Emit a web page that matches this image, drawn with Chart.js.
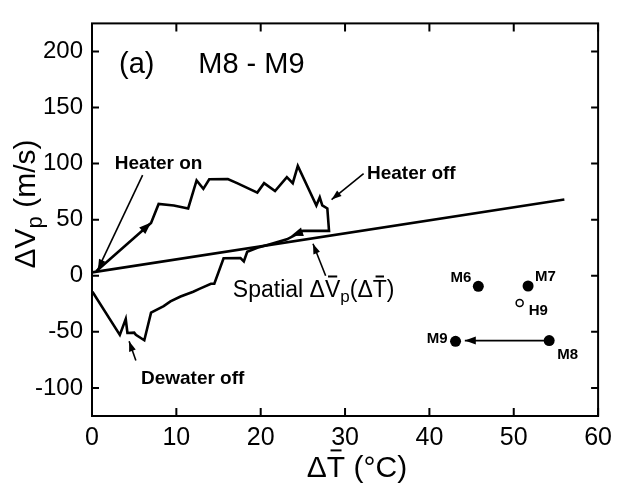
<!DOCTYPE html>
<html>
<head>
<meta charset="utf-8">
<script src="https://cdn.jsdelivr.net/npm/chart.js@4.4.1/dist/chart.umd.min.js"></script>
<style>
  body { margin: 0; background: #fff; }
  #wrap { width: 619px; height: 495px; }
</style>
</head>
<body>
<div id="wrap"><canvas id="chart"></canvas></div>
<script>
// axis ticks
const xTicks = [0, 10, 20, 30, 40, 50, 60];
const yTicks = [-100, -50, 0, 50, 100, 150, 200];

// temporal path M8-M9: heater on -> heater off -> dewater off
const pathX = [0.5, 7.0, 7.9, 9.7, 11.4, 12.4, 13.2, 13.9, 16.1, 17.2, 19.6, 20.4, 21.7, 23.1, 23.8, 24.4,
  26.6, 27.0, 27.3, 27.9, 28.1, 25.0, 23.9, 23.1, 21.0, 19.6, 18.4, 18.0, 17.6, 15.6, 14.5, 14.1, 12.8,
  12.0, 10.5, 9.3, 8.5, 7.0, 6.2, 5.2, 5.0, 4.2, 4.0, 3.3, 0.05];
const pathY = [4, 47, 64, 62.7, 60, 85, 77.5, 86, 86.3, 82.6, 74.2, 82.6, 75.5, 88, 82.6, 98,
  62.7, 70, 62.7, 60, 40, 40, 35.6, 32.5, 28, 25, 21.4, 12.8, 15.7, 15.6, -7, -7.1, -11.4,
  -14.2, -18.5, -22.8, -27, -32.8, -57.5, -52.7, -50.7, -51, -38.5, -52.7, -14.2];

// spatial relation line
const spatialX = [0, 56];
const spatialY = [3, 68];

// well pairs
const wellNames = ['M6', 'M7', 'M8', 'M9'];
const wellX = [45.8, 51.7, 54.2, 43.1];
const wellY = [-9.4, -9.1, -57.8, -58.4];
const openNames = ['H9'];
const openX = [50.7];
const openY = [-24.2];

// annotations (data units)
const noteText = ['Heater on', 'Heater off', 'Dewater off'];
const noteX = [2.7, 32.6, 5.8];
const noteY = [95, 86, -96.6];
// pointer lines [x1, y1, x2, y2], arrowhead at the second point
const pointers = [[6.0, 89.7, 0.7, 5.7], [32.2, 91, 28.4, 68], [27.7, 0, 26.2, 28.5], [5.2, -75.5, 4.4, -58.4]];
const curveHeads = [[5.5, 37, 7.0, 47.5], [25.2, 39.8, 23.6, 35.8]];
const moveArrow = [54.2, -57.8, 44.2, -57.8];

const FONT = "'Liberation Sans', Arial, sans-serif";

function head(ctx, x1, y1, x2, y2, len, wid) {
  const a = Math.atan2(y2 - y1, x2 - x1);
  ctx.beginPath();
  ctx.moveTo(x2, y2);
  ctx.lineTo(x2 - len * Math.cos(a) + wid * Math.sin(a), y2 - len * Math.sin(a) - wid * Math.cos(a));
  ctx.lineTo(x2 - len * Math.cos(a) - wid * Math.sin(a), y2 - len * Math.sin(a) + wid * Math.cos(a));
  ctx.closePath();
  ctx.fill();
}

function richWidth(ctx, parts) {
  let w = 0;
  parts.forEach(p => { ctx.font = p[3] + ' ' + p[1] + 'px ' + FONT; w += ctx.measureText(p[0]).width; });
  return w;
}

function rich(ctx, parts, x, y) {
  let cx = x;
  ctx.textAlign = 'left';
  ctx.textBaseline = 'alphabetic';
  parts.forEach(([t, size, dy, weight, bar]) => {
    ctx.font = weight + ' ' + size + 'px ' + FONT;
    ctx.fillText(t, cx, y + dy);
    const w = ctx.measureText(t).width;
    if (bar) ctx.fillRect(cx + w * 0.2, y + dy - size * 0.92, w * 0.6, 2);
    cx += w;
  });
}

const decor = {
  id: 'decor',
  afterDatasetsDraw(chart) {
    const ctx = chart.ctx;
    const xs = chart.scales.x, ys = chart.scales.y;
    const X = v => xs.getPixelForValue(v), Y = v => ys.getPixelForValue(v);
    const a = chart.chartArea;
    ctx.save();
    ctx.strokeStyle = '#000';
    ctx.fillStyle = '#000';

    // frame and inward ticks
    ctx.lineWidth = 2;
    ctx.strokeRect(a.left, a.top, a.right - a.left, a.bottom - a.top);
    ctx.beginPath();
    xTicks.forEach(t => {
      ctx.moveTo(X(t), a.bottom); ctx.lineTo(X(t), a.bottom - 8);
      ctx.moveTo(X(t), a.top); ctx.lineTo(X(t), a.top + 8);
    });
    yTicks.forEach(t => {
      ctx.moveTo(a.left, Y(t)); ctx.lineTo(a.left + 7, Y(t));
      ctx.moveTo(a.right, Y(t)); ctx.lineTo(a.right - 7, Y(t));
    });
    ctx.stroke();

    // pointers
    ctx.lineWidth = 1.6;
    pointers.forEach(p => {
      ctx.beginPath(); ctx.moveTo(X(p[0]), Y(p[1])); ctx.lineTo(X(p[2]), Y(p[3])); ctx.stroke();
      head(ctx, X(p[0]), Y(p[1]), X(p[2]), Y(p[3]), 10, 3.5);
    });
    curveHeads.forEach(p => head(ctx, X(p[0]), Y(p[1]), X(p[2]), Y(p[3]), 12, 4.5));
    ctx.beginPath(); ctx.moveTo(X(moveArrow[0]), Y(moveArrow[1])); ctx.lineTo(X(moveArrow[2]), Y(moveArrow[3])); ctx.stroke();
    head(ctx, X(moveArrow[0]), Y(moveArrow[1]), X(moveArrow[2]), Y(moveArrow[3]), 11, 4);

    // notes
    ctx.textAlign = 'left';
    ctx.textBaseline = 'alphabetic';
    ctx.font = 'bold 19px ' + FONT;
    noteText.forEach((t, i) => ctx.fillText(t, X(noteX[i]), Y(noteY[i])));

    // well labels
    ctx.font = 'bold 15px ' + FONT;
    const lab = [['right', -7, -4], ['left', 7, -5], ['left', 8, 18], ['right', -8, 2]];
    wellNames.forEach((n, i) => {
      ctx.textAlign = lab[i][0];
      ctx.fillText(n, X(wellX[i]) + lab[i][1], Y(wellY[i]) + lab[i][2]);
    });
    ctx.textAlign = 'left';
    openNames.forEach((n, i) => ctx.fillText(n, X(openX[i]) + 9, Y(openY[i]) + 12));

    // panel title
    ctx.font = '29px ' + FONT;
    ctx.fillText('(a)', X(3.2), Y(181));
    ctx.fillText('M8 - M9', X(12.6), Y(181));

    // spatial label
    rich(ctx, [['Spatial ', 23, 0, 'normal'], ['\u0394', 23, 0, 'normal'], ['V', 23, 0, 'normal', true],
      ['p', 17, 5, 'normal'], ['(\u0394', 23, 0, 'normal'], ['T', 23, 0, 'normal', true], [')', 23, 0, 'normal']],
      X(16.7), Y(-18.6));

    // axis titles
    const xt = [['\u0394', 30, 0, 'normal'], ['T', 30, 0, 'normal', true], [' (\u00b0C)', 30, 0, 'normal']];
    rich(ctx, xt, 357 - richWidth(ctx, xt) / 2, 477);
    const yt = [['\u0394V', 30, 0, 'normal'], ['p', 22, 7, 'normal'], [' (m/s)', 30, 0, 'normal']];
    const w = richWidth(ctx, yt);
    ctx.translate(24, 204);
    ctx.rotate(-Math.PI / 2);
    rich(ctx, yt, -w / 2, 11);
    ctx.restore();
  }
};

new Chart(document.getElementById('chart'), {
  type: 'scatter',
  data: {
    datasets: [
      {
        data: pathX.map((x, i) => ({ x: x, y: pathY[i] })),
        showLine: true, borderColor: '#000', borderWidth: 2.6, pointRadius: 0, tension: 0
      },
      {
        data: spatialX.map((x, i) => ({ x: x, y: spatialY[i] })),
        showLine: true, borderColor: '#000', borderWidth: 2.6, pointRadius: 0
      },
      {
        data: wellX.map((x, i) => ({ x: x, y: wellY[i] })),
        pointRadius: 5.5, backgroundColor: '#000', borderColor: '#000', borderWidth: 0
      },
      {
        data: openX.map((x, i) => ({ x: x, y: openY[i] })),
        pointRadius: 3.5, backgroundColor: '#fff', borderColor: '#000', borderWidth: 1.5
      }
    ]
  },
  options: {
    responsive: true,
    maintainAspectRatio: false,
    animation: false,
    layout: { padding: { top: 5, right: 12, left: 0, bottom: 0 } },
    plugins: { legend: { display: false }, tooltip: { enabled: false } },
    scales: {
      x: {
        type: 'linear', min: 0, max: 60,
        afterBuildTicks: s => { s.ticks = xTicks.map(v => ({ value: v })); },
        afterFit: s => { s.height = 79; },
        grid: { display: false, drawTicks: false },
        border: { display: false },
        ticks: { color: '#000', padding: 7, maxRotation: 0, font: { family: FONT, size: 25 } }
      },
      y: {
        type: 'linear', min: -125, max: 225,
        afterBuildTicks: s => { s.ticks = yTicks.map(v => ({ value: v })); },
        afterFit: s => { s.width = 92; },
        grid: { display: false, drawTicks: false },
        border: { display: false },
        ticks: { color: '#000', padding: 9, font: { family: FONT, size: 24 } }
      }
    }
  },
  plugins: [decor]
});
</script>
</body>
</html>
